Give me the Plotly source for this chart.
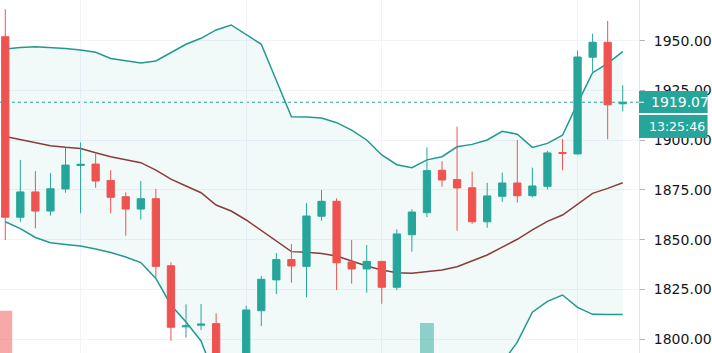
import plotly.graph_objects as go

idx = list(range(42))
opens = [1952.0, 1861.3, 1874.0, 1864.4, 1875.5, 1887.3, 1888.0, 1879.8, 1871.6, 1865.4,
         1870.6, 1836.9, 1806.2, 1807.0, 1807.8, 1786.0, 1789.0, 1814.3, 1829.8, 1840.0,
         1836.6, 1861.8, 1869.3, 1838.8, 1835.3, 1839.1, 1826.1, 1852.5, 1863.6, 1884.9,
         1880.2, 1876.1, 1859.0, 1871.8, 1878.5, 1872.1, 1876.8, 1893.8, 1893.1, 1941.7,
         1949.2, 1918.3]
highs = [1965.8, 1890.1, 1884.5, 1883.5, 1896.2, 1898.9, 1893.2, 1884.9, 1873.8, 1879.5,
         1875.6, 1838.6, 1817.5, 1817.7, 1813.0, 1791.0, 1816.8, 1831.8, 1843.3, 1847.8,
         1868.4, 1875.0, 1870.8, 1849.8, 1847.3, 1839.3, 1855.2, 1865.3, 1896.4, 1889.4,
         1906.8, 1884.2, 1878.6, 1883.7, 1900.1, 1886.2, 1894.6, 1900.5, 1945.0, 1953.5,
         1959.9, 1927.6]
lows = [1849.8, 1859.0, 1855.7, 1862.1, 1873.6, 1863.3, 1876.1, 1863.3, 1852.0, 1860.1,
        1830.9, 1799.2, 1800.8, 1804.6, 1782.0, 1778.0, 1785.0, 1806.6, 1822.7, 1828.4,
        1821.1, 1859.5, 1824.7, 1827.9, 1823.4, 1817.8, 1824.6, 1844.0, 1861.4, 1876.6,
        1854.5, 1858.0, 1856.0, 1869.0, 1868.6, 1871.3, 1875.3, 1884.9, 1892.8, 1934.4,
        1900.5, 1914.5]
closes = [1861.3, 1874.0, 1864.4, 1875.6, 1887.5, 1887.9, 1879.5, 1871.3, 1865.4, 1870.6,
          1836.6, 1806.0, 1806.8, 1807.6, 1788.0, 1789.0, 1814.7, 1830.1, 1840.0, 1836.8,
          1861.9, 1869.3, 1838.4, 1835.3, 1839.1, 1826.1, 1852.9, 1863.9, 1884.7, 1880.0,
          1876.0, 1859.0, 1872.0, 1878.5, 1872.1, 1877.0, 1893.6, 1893.4, 1941.8, 1949.2,
          1917.8, 1919.07]
volumes = [124, 62, 55, 58, 66, 70, 52, 57, 60, 49,
           78, 85, 64, 50, 82, 88, 80, 72, 60, 55,
           74, 58, 79, 52, 50, 61, 75, 68, 117, 58,
           70, 63, 55, 50, 62, 48, 66, 57, 90, 72,
           86, 30]
bb_upper = [1945.8, 1946.6, 1947.0, 1946.6, 1946.1, 1945.3, 1944.2, 1941.1, 1939.8, 1938.8,
            1939.8, 1943.8, 1948.2, 1951.2, 1955.4, 1957.9, 1952.9, 1948.2, 1930.0, 1911.8,
            1911.7, 1911.2, 1908.8, 1905.1, 1900.1, 1892.6, 1887.7, 1886.2, 1890.1, 1891.7,
            1896.7, 1897.9, 1900.1, 1904.5, 1903.0, 1896.4, 1898.4, 1902.5, 1918.5, 1933.9,
            1938.6, 1944.5]
bb_basis = [1901.9, 1900.4, 1898.8, 1897.2, 1896.4, 1895.8, 1893.7, 1891.7, 1890.2, 1888.7,
            1885.0, 1880.4, 1877.0, 1873.6, 1867.4, 1864.4, 1859.9, 1854.6, 1849.3, 1844.0,
            1843.7, 1843.1, 1841.8, 1839.3, 1836.8, 1834.8, 1833.4, 1833.1, 1834.0, 1834.8,
            1836.4, 1839.3, 1842.3, 1846.3, 1850.2, 1854.9, 1859.2, 1862.4, 1867.9, 1873.3,
            1875.8, 1878.6]
bb_lower = [1859.0, 1855.6, 1851.1, 1848.5, 1847.6, 1846.8, 1845.3, 1843.6, 1841.3, 1838.5,
            1830.5, 1817.2, 1808.6, 1799.1, 1779.4, 1770.9, 1766.9, 1761.0, 1768.6, 1776.2,
            1775.7, 1775.0, 1774.8, 1773.5, 1773.5, 1777.0, 1779.1, 1780.0, 1777.9, 1777.9,
            1776.1, 1780.7, 1784.5, 1788.1, 1798.5, 1813.6, 1819.0, 1822.2, 1816.0, 1812.5,
            1812.4, 1812.4]
price_ticks = [1800, 1825, 1850, 1875, 1900, 1925, 1950]
time_grid = [5, 16, 25, 38]
timer_text = "13:25:46"

UP = "#26a69a"
DOWN = "#ef5350"
FONT = "DejaVu Sans"
FS = 14

vol_colors = ["rgba(38,166,154,0.5)" if c >= o else "rgba(239,83,80,0.5)"
              for o, c in zip(opens, closes)]

fig = go.Figure()
fig.add_trace(go.Scatter(x=idx, y=bb_upper, mode="lines",
                         line=dict(color="#22998d", width=1.5), hoverinfo="skip"))
fig.add_trace(go.Scatter(x=idx, y=bb_lower, mode="lines", fill="tonexty",
                         fillcolor="rgba(38,166,154,0.06)",
                         line=dict(color="#22998d", width=1.5), hoverinfo="skip"))
fig.add_trace(go.Scatter(x=idx, y=bb_basis, mode="lines",
                         line=dict(color="#8a3b3b", width=1.5), hoverinfo="skip"))
fig.add_trace(go.Bar(x=idx, y=volumes, marker=dict(color=vol_colors, line=dict(width=0)),
                     width=0.92, yaxis="y2", hoverinfo="skip"))
fig.add_trace(go.Candlestick(
    x=idx, open=opens, high=highs, low=lows, close=closes, yaxis="y3",
    increasing=dict(line=dict(color=UP, width=1), fillcolor=UP),
    decreasing=dict(line=dict(color=DOWN, width=1), fillcolor=DOWN),
    whiskerwidth=0))

last = closes[-1]
yr = [1793.06, 1970.45]
fig.update_layout(
    width=712, height=353,
    margin=dict(l=0, r=69, t=0, b=0),
    paper_bgcolor="white", plot_bgcolor="white",
    showlegend=False, boxgap=0.31,
    font=dict(family=FONT, size=FS, color="#131722"),
    xaxis=dict(range=[-0.35, 42.08], tickvals=time_grid, showticklabels=False,
               showgrid=True, gridcolor="#f0f3fa", zeroline=False,
               rangeslider=dict(visible=False), ticks=""),
    yaxis=dict(range=yr, side="right", tickvals=price_ticks,
               ticktext=[f"{v:.2f}" for v in price_ticks],
               showgrid=True, gridcolor="#f0f3fa", zeroline=False,
               showline=True, linecolor="#e0e3eb", linewidth=1,
               ticks="outside", ticklen=5, tickcolor="#b2b5be",
               ticklabelstandoff=6,
               tickfont=dict(family=FONT, size=FS, color="#131722")),
    yaxis2=dict(range=[100, 300], overlaying="y", visible=False),
    yaxis3=dict(range=yr, overlaying="y", visible=False),
)

# dotted last-price line
fig.add_shape(type="line", xref="paper", yref="y", x0=0, x1=1, y0=last, y1=last,
              line=dict(color=UP, width=1, dash="dot"), layer="below")
# price label box and timer box
fig.add_shape(type="rect", xref="paper", yref="y", x0=1, x1=712 / 643,
              y0=last - 5.4, y1=last + 5.65, fillcolor=UP, line=dict(width=0), layer="above")
fig.add_shape(type="rect", xref="paper", yref="y", x0=1, x1=712 / 643,
              y0=last - 17.97, y1=last - 6.41, fillcolor=UP, line=dict(width=0), layer="above")
fig.add_shape(type="line", xref="paper", yref="y", x0=1, x1=1 + 5 / 643, y0=last, y1=last,
              line=dict(color="white", width=1), layer="above")
fig.add_annotation(xref="paper", yref="y", x=1, y=last, text=f"{last:.2f}",
                   showarrow=False, xanchor="left", xshift=10,
                   font=dict(family=FONT, size=FS, color="white"))
fig.add_annotation(xref="paper", yref="y", x=1, y=last - 12.2, text=timer_text,
                   showarrow=False, xanchor="left", xshift=8,
                   font=dict(family=FONT, size=12.5, color="white"))

fig.write_html("out.html")
